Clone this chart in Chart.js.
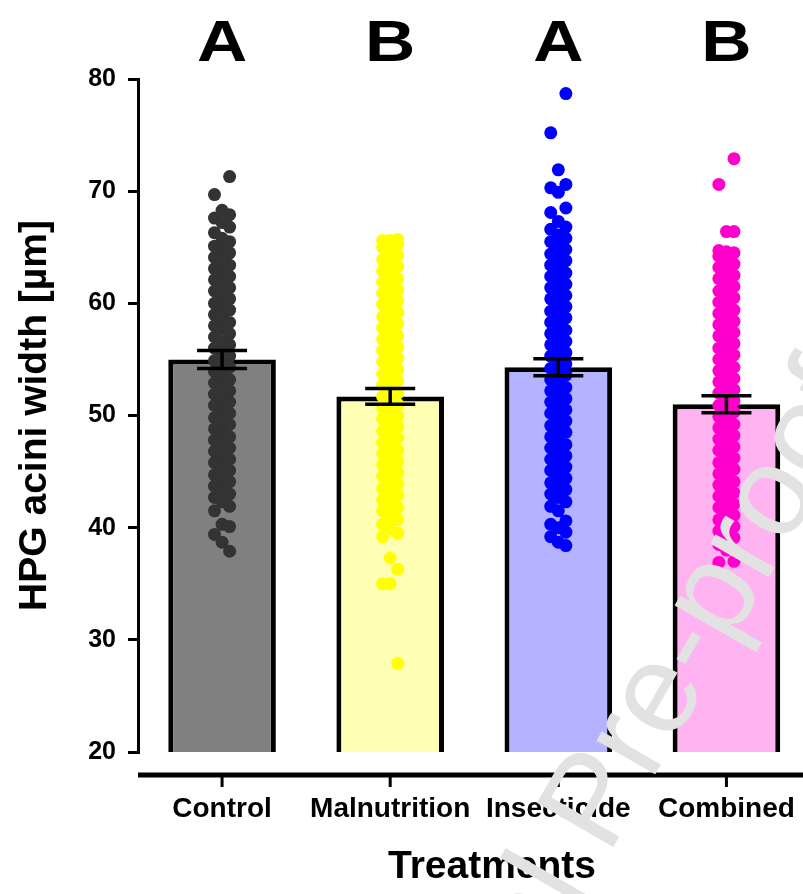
<!DOCTYPE html>
<html>
<head>
<meta charset="utf-8">
<script src="https://cdn.jsdelivr.net/npm/chart.js@4.4.1/dist/chart.umd.min.js"></script>
<style>
  html, body { margin: 0; padding: 0; overflow: hidden; background: #fff; }
  #wrap { width: 817px; height: 894px; }
</style>
</head>
<body>
<div id="wrap"><canvas id="chart" width="817" height="894"></canvas></div>
<script>
// categories and group letters
const groups = ['Control', 'Malnutrition', 'Insecticide', 'Combined'];
const letters = ['A', 'B', 'A', 'B'];

// bar heights (means) and error bar half-widths
const means = [55.0, 51.7, 54.3, 51.0];
const errors = [0.8, 0.7, 0.75, 0.75];

const controlValues = [
  71.3, 69.7, 68.3, 67.9, 67.6, 67.2, 66.8, 66.3,
  65.8, 65.5, 65.1, 64.8, 64.5, 64.1, 63.8, 63.4, 63.1, 62.8, 62.4, 62.1, 61.7, 61.4, 61.1, 60.7,
  60.4, 60.0, 59.7, 59.4, 59.0, 58.7, 58.3, 58.0, 57.7, 57.3, 57.0, 56.6, 56.3, 56.0, 55.6, 55.3,
  54.9, 54.6, 54.3, 53.9, 53.6, 53.2, 52.9, 52.6, 52.2, 51.9, 51.5, 51.2, 50.9, 50.5, 50.2, 49.8,
  49.5, 49.2, 48.8, 48.5, 48.1, 47.8, 47.5, 47.1, 46.8, 46.4, 46.1, 45.8, 45.4, 45.1, 44.7, 44.4,
  44.1, 43.7, 43.4, 43.0, 42.7, 42.3, 41.9, 41.5,
  40.3, 40.1, 39.4, 38.7, 37.9
];
const malnutritionValues = [
  65.7, 65.6, 65.6, 65.3, 65.0, 64.6, 64.3, 63.9, 63.6, 63.3, 62.9, 62.6, 62.2, 61.9, 61.6, 61.2,
  60.9, 60.5, 60.2, 59.9, 59.5, 59.2, 58.8, 58.5, 58.2, 57.8, 57.5, 57.1, 56.8, 56.5, 56.1, 55.8,
  55.4, 55.1, 54.8, 54.4, 54.1, 53.7, 53.4, 53.1, 52.7, 52.4, 52.0, 51.7, 51.4, 51.0, 50.7, 50.3,
  50.0, 49.7, 49.3, 49.0, 48.6, 48.3, 48.0, 47.6, 47.3, 46.9, 46.6, 46.3, 45.9, 45.6, 45.2, 44.9,
  44.6, 44.2, 43.9, 43.5, 43.2, 42.9, 42.5, 42.2, 41.8, 41.5, 41.1, 40.7, 40.3, 39.9, 39.5, 39.2,
  37.3, 36.3, 35.0, 35.0, 27.9
];
const insecticideValues = [
  78.7, 75.2, 71.9, 70.6, 70.3, 69.9, 68.5, 68.1, 67.3, 66.8, 66.6,
  66.1, 65.8, 65.5, 65.1, 64.8, 64.4, 64.1, 63.8, 63.4, 63.1, 62.7, 62.4, 62.1, 61.7, 61.4, 61.0,
  60.7, 60.4, 60.0, 59.7, 59.3, 59.0, 58.7, 58.3, 58.0, 57.6, 57.3, 57.0, 56.6, 56.3, 55.9, 55.6,
  55.3, 54.9, 54.6, 54.2, 53.9, 53.6, 53.2, 52.9, 52.5, 52.2, 51.9, 51.5, 51.2, 50.8, 50.5, 50.2,
  49.8, 49.5, 49.1, 48.8, 48.5, 48.1, 47.8, 47.4, 47.1, 46.8, 46.4, 46.1, 45.7, 45.4, 45.1, 44.7,
  44.4, 44.0, 43.7, 43.4, 43.0, 42.7, 42.3, 41.9, 41.5,
  40.6, 40.3, 40.0, 39.6, 39.2, 38.7, 38.4
];
const combinedValues = [
  72.9, 70.6, 66.4, 66.4,
  64.7, 64.6, 64.5, 64.2, 63.9, 63.5, 63.2, 62.8, 62.5, 62.2, 61.8, 61.5, 61.1, 60.8, 60.5, 60.1,
  59.8, 59.4, 59.1, 58.8, 58.4, 58.1, 57.7, 57.4, 57.1, 56.7, 56.4, 56.0, 55.7, 55.4, 55.0, 54.7,
  54.3, 54.0, 53.7, 53.3, 53.0, 52.6, 52.3, 52.0, 51.6, 51.3, 50.9, 50.6, 50.3, 49.9, 49.6, 49.2,
  48.9, 48.6, 48.2, 47.9, 47.5, 47.2, 46.9, 46.5, 46.2, 45.8, 45.5, 45.2, 44.8, 44.5, 44.1, 43.8,
  43.5, 43.1, 42.8, 42.4, 42.1, 41.8, 41.4, 41.1, 40.7, 40.4, 40.1, 39.7, 39.4, 39.1,
  38.5, 38.0, 37.0, 36.9
];

const yTicks = [20, 30, 40, 50, 60, 70, 80];

const barColors = ['#808080', '#FFFFB3', '#B3B3FF', '#FFB3F0'];
const dotColors = ['#333333', '#FFFF00', '#0000FF', '#FF00CC'];
const FONT = '"Liberation Sans", Arial, sans-serif';

// horizontal spread of the dot columns, in category units
const spread = [0.045, -0.045, 0];
function cloud(values, g) {
  return values.map((v, k) => ({ x: g + spread[k % spread.length], y: v }));
}

const errorBars = {
  id: 'errorBars',
  afterDatasetsDraw(chart) {
    const { ctx, scales: { x, y } } = chart;
    ctx.save();
    ctx.strokeStyle = '#000';
    ctx.lineWidth = 3.5;
    means.forEach((m, i) => {
      const cx = x.getPixelForValue(i);
      const top = y.getPixelForValue(m + errors[i]);
      const bot = y.getPixelForValue(m - errors[i]);
      ctx.beginPath();
      ctx.moveTo(cx, top); ctx.lineTo(cx, bot);
      ctx.moveTo(cx - 25, top); ctx.lineTo(cx + 25, top);
      ctx.moveTo(cx - 25, bot); ctx.lineTo(cx + 25, bot);
      ctx.stroke();
    });
    ctx.restore();
  }
};

const decorations = {
  id: 'decorations',
  afterDraw(chart) {
    const { ctx, chartArea, scales: { x } } = chart;
    ctx.save();
    // detached x axis line with ticks
    const ay = chartArea.bottom + 23;
    ctx.strokeStyle = '#000';
    ctx.lineWidth = 5;
    ctx.beginPath();
    ctx.moveTo(chartArea.left, ay); ctx.lineTo(chart.width, ay);
    ctx.stroke();
    ctx.lineWidth = 3;
    groups.forEach((g, i) => {
      const cx = x.getPixelForValue(i);
      ctx.beginPath();
      ctx.moveTo(cx, ay); ctx.lineTo(cx, ay + 12);
      ctx.stroke();
    });
    // x title
    ctx.fillStyle = '#000';
    ctx.textAlign = 'center';
    ctx.textBaseline = 'middle';
    ctx.font = 'bold 39px ' + FONT;
    ctx.fillText('Treatments', 492, 867);
    // significance letters (a little wider than the font)
    ctx.font = 'bold 58px ' + FONT;
    ctx.textBaseline = 'alphabetic';
    letters.forEach((t, i) => {
      ctx.save();
      ctx.translate(x.getPixelForValue(i), 61);
      ctx.scale(1.2, 1);
      ctx.fillText(t, 0, 0);
      ctx.restore();
    });
    // journal watermark
    ctx.translate(608, 856);
    ctx.rotate(-60 * Math.PI / 180);
    ctx.font = '128px ' + FONT;
    ctx.textAlign = 'left';
    ctx.fillStyle = '#e2e2e2';
    const lead = ctx.measureText('Journal ').width;
    ctx.fillText('Journal Pre-proof', -lead, 0);
    ctx.restore();
  }
};

const datasets = [
  {
    type: 'bar',
    data: means,
    backgroundColor: barColors,
    borderColor: '#000',
    borderWidth: 5,
    borderSkipped: 'start',
    grouped: false,
    barPercentage: 0.64,
    categoryPercentage: 1,
    order: 2
  }
];
[controlValues, malnutritionValues, insecticideValues, combinedValues].forEach((vals, g) => {
  datasets.push({
    type: 'scatter',
    parsing: false,
    data: cloud(vals, g),
    backgroundColor: dotColors[g],
    borderWidth: 0,
    pointRadius: 6.5,
    order: 1
  });
});

new Chart(document.getElementById('chart'), {
  type: 'bar',
  data: { labels: groups, datasets },
  options: {
    responsive: false,
    animation: false,
    layout: { padding: { top: 79, left: 0, right: 0, bottom: 0 } },
    plugins: { legend: { display: false }, tooltip: { enabled: false } },
    scales: {
      x: {
        type: 'category',
        offset: true,
        grid: { display: false, drawTicks: false },
        border: { display: false },
        ticks: {
          autoSkip: false, maxRotation: 0, padding: 40, color: '#000',
          font: { family: FONT, size: 28, weight: 'bold' }
        },
        afterFit(scale) { scale.height = 142; scale.paddingLeft = 0; scale.paddingRight = 0; }
      },
      y: {
        min: 20, max: 80,
        afterBuildTicks(scale) { scale.ticks = yTicks.map(v => ({ value: v })); },
        border: { display: true, color: '#000', width: 3 },
        grid: { drawOnChartArea: false, drawTicks: true, tickLength: 10, color: '#000', lineWidth: 3 },
        ticks: { padding: 12, color: '#000', font: { family: FONT, size: 25, weight: 'bold' } },
        title: {
          display: true, text: 'HPG acini width [µm]', color: '#000',
          font: { family: FONT, size: 39, weight: 'bold' }, padding: { top: 12, bottom: 0 }
        },
        afterFit(scale) { scale.width = 138; }
      }
    }
  },
  plugins: [errorBars, decorations]
});
</script>
</body>
</html>
